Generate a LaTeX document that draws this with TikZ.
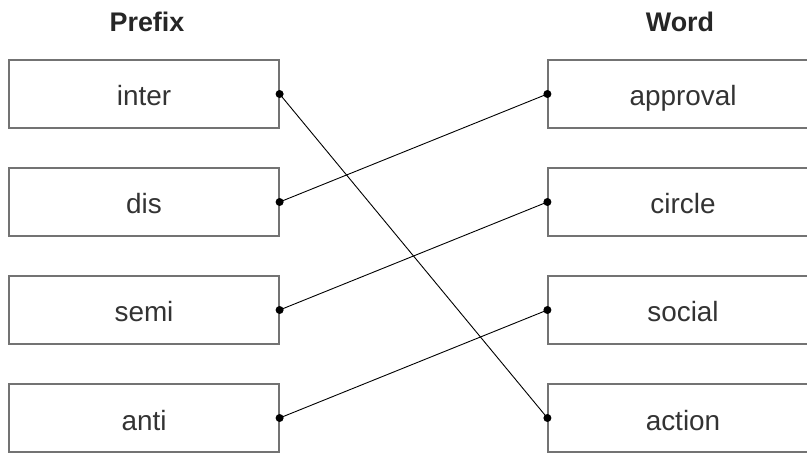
\documentclass[tikz,border=0pt]{standalone}
\usepackage{fontspec}
\setmainfont{Liberation Sans}
\usetikzlibrary{shapes,arrows}
\tikzstyle{box} = [rectangle, draw=black!55, line width=1.2bp, minimum width=270bp, minimum height=68bp, inner sep=0pt, text height=24bp, text depth=0pt, font=\fontsize{28}{32}\selectfont, text=black!80]
\tikzstyle{dot} = [circle, fill=black, minimum size=8bp, inner sep=0pt]
\tikzstyle{title} = [anchor=base, font=\fontsize{27}{32}\selectfont\bfseries, text=black!85]
\tikzstyle{line} = [draw, line width=0.9bp]

\begin{document}
\begin{tikzpicture}[x=1bp, y=-1bp]
    \useasboundingbox (0,0) rectangle (807,455);

    \node[title] (prefix) at (147, 32) {Prefix};
    \node[title] (word) at (680, 32) {Word};

    \node[box] (inter) at (144, 94) {inter};
    \node[box] (dis) at (144, 202) {dis};
    \node[box] (semi) at (144, 310) {semi};
    \node[box] (anti) at (144, 418) {anti};

    \node[box] (approval) at (683, 94) {approval};
    \node[box] (circle) at (683, 202) {circle};
    \node[box] (social) at (683, 310) {social};
    \node[box] (action) at (683, 418) {action};

    \node[dot] (d1) at (inter.east) {};
    \node[dot] (d2) at (dis.east) {};
    \node[dot] (d3) at (semi.east) {};
    \node[dot] (d4) at (anti.east) {};
    \node[dot] (w1) at (approval.west) {};
    \node[dot] (w2) at (circle.west) {};
    \node[dot] (w3) at (social.west) {};
    \node[dot] (w4) at (action.west) {};

    \path [line] (d1.center) edge[-] (w4.center) {};
    \path [line] (d2.center) edge[-] (w1.center) {};
    \path [line] (d3.center) edge[-] (w2.center) {};
    \path [line] (d4.center) edge[-] (w3.center) {};

  \end{tikzpicture}
\end{document}
